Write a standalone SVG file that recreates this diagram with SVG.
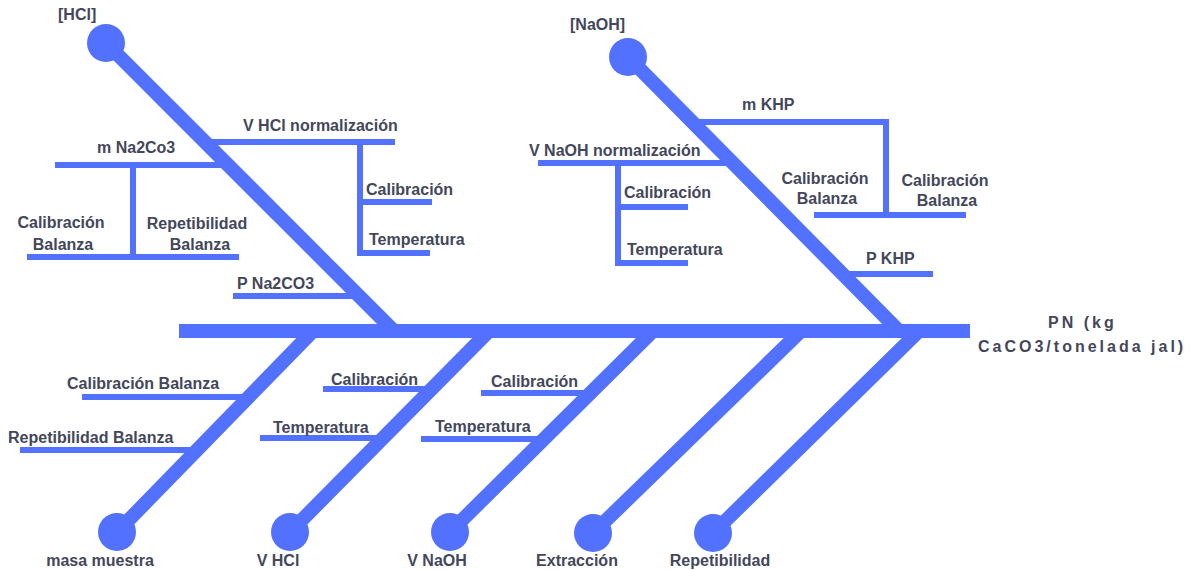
<svg xmlns="http://www.w3.org/2000/svg" width="1197" height="570" viewBox="0 0 1197 570">
<style>
.bone{stroke:#5271ff;stroke-width:14;fill:none;stroke-linecap:butt}
.sub{stroke:#5271ff;stroke-width:6;fill:none;stroke-linecap:butt;stroke-linejoin:miter}
.dot{fill:#5271ff}
text{font-family:"Liberation Sans",Arial,sans-serif;font-weight:bold;font-size:16px;fill:#44475b}
.c{text-anchor:middle}
.pn{letter-spacing:3px}
</style>
<rect width="1197" height="570" fill="#ffffff"/>
<g id="connectors">
<line class="bone" x1="179" y1="331" x2="970" y2="331"/>
</g>
<g id="node-hcl">
<path class="sub" d="M205,142 H395 M360,142 V202 H432 M360,199 V253 H430"/>
<path class="sub" d="M55,165 H228 M133,165 V257 M27,257 H239"/>
<path class="sub" d="M233,296 H359"/>
<line class="bone" x1="106" y1="43" x2="394" y2="331"/>
<circle class="dot" cx="106" cy="43" r="19"/>
<text x="58" y="20">[HCl]</text>
<text x="243" y="131">V HCl normalización</text>
<text x="366" y="195">Calibración</text>
<text x="369" y="245">Temperatura</text>
<text x="97" y="153">m Na2Co3</text>
<text class="c" x="61" y="228">Calibración</text>
<text class="c" x="63" y="250">Balanza</text>
<text class="c" x="197" y="229">Repetibilidad</text>
<text class="c" x="200" y="250">Balanza</text>
<text x="237" y="289">P Na2CO3</text>
</g>
<g id="node-naoh">
<path class="sub" d="M692,122 H886 V215 M814,215 H966"/>
<path class="sub" d="M538,163 H733 M618,163 V207 H688 M618,204 V263 H688"/>
<path class="sub" d="M843,274 H933"/>
<line class="bone" x1="628" y1="57" x2="899" y2="331"/>
<circle class="dot" cx="628" cy="57" r="19"/>
<text x="570" y="30">[NaOH]</text>
<text x="742" y="110">m KHP</text>
<text x="529" y="156">V NaOH normalización</text>
<text x="624" y="198">Calibración</text>
<text x="627" y="255">Temperatura</text>
<text class="c" x="825" y="184">Calibración</text>
<text class="c" x="827" y="204">Balanza</text>
<text class="c" x="945" y="186">Calibración</text>
<text class="c" x="947" y="206">Balanza</text>
<text x="866" y="264">P KHP</text>
</g>
<g id="node-masa">
<path class="sub" d="M82,397 H247 M20,450 H194"/>
<line class="bone" x1="117" y1="532" x2="313" y2="331"/>
<circle class="dot" cx="117" cy="532" r="19"/>
<text x="67" y="389">Calibración Balanza</text>
<text x="8" y="443">Repetibilidad Balanza</text>
<text class="c" x="100" y="566">masa muestra</text>
</g>
<g id="node-vhcl">
<path class="sub" d="M323,389 H431 M260,438 H382"/>
<line class="bone" x1="290" y1="532" x2="489" y2="331"/>
<circle class="dot" cx="290" cy="532" r="19"/>
<text x="331" y="385">Calibración</text>
<text x="273" y="433">Temperatura</text>
<text class="c" x="278" y="566">V HCl</text>
</g>
<g id="node-vnaoh">
<path class="sub" d="M481,393 H591 M421,439 H545"/>
<line class="bone" x1="450" y1="532" x2="653" y2="331"/>
<circle class="dot" cx="450" cy="532" r="19"/>
<text x="491" y="387">Calibración</text>
<text x="435" y="432">Temperatura</text>
<text class="c" x="437" y="566">V NaOH</text>
</g>
<g id="node-extraccion">
<line class="bone" x1="593" y1="533" x2="801" y2="331"/>
<circle class="dot" cx="593" cy="533" r="19"/>
<text class="c" x="577" y="566">Extracción</text>
</g>
<g id="node-repetibilidad">
<line class="bone" x1="713" y1="533" x2="919" y2="331"/>
<circle class="dot" cx="713" cy="533" r="19"/>
<text class="c" x="720" y="566">Repetibilidad</text>
</g>
<g id="node-pn">
<text class="pn" x="1048" y="328">PN (kg</text>
<text class="pn" x="978" y="352">CaCO3/tonelada jal)</text>
</g>
</svg>
